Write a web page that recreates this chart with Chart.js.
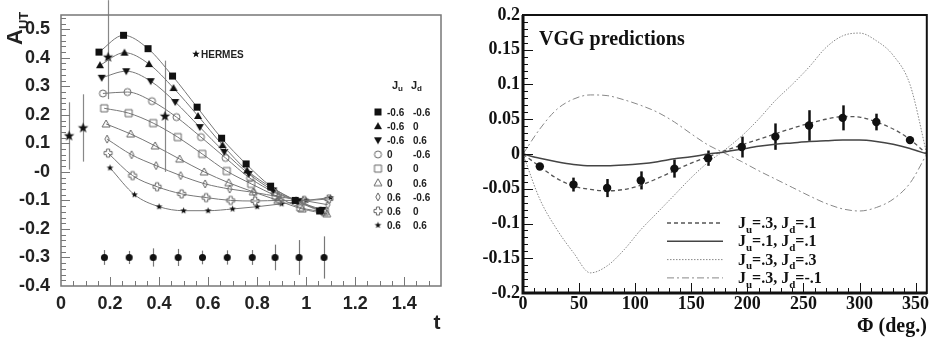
<!DOCTYPE html>
<html>
<head>
<meta charset="utf-8">
<title>A_UT vs t / VGG predictions</title>
<script src="https://cdn.jsdelivr.net/npm/chart.js@4.4.1/dist/chart.umd.min.js"></script>
<style>
  body { margin: 0; background: #fff; }
  #wrap { position: relative; width: 931px; height: 337px; overflow: hidden; }
  #leftChart { position: absolute; left: 0; top: 0; width: 460px; height: 337px; }
  #rightChart { position: absolute; left: 460px; top: 0; width: 471px; height: 337px; }
</style>
</head>
<body>
<div id="wrap">
  <canvas id="leftChart" width="460" height="337"></canvas>
  <canvas id="rightChart" width="471" height="337"></canvas>
</div>
<script>
// ---------- left panel: A_UT vs t ----------
const tBase = [0.155, 0.255, 0.355, 0.455, 0.555, 0.655, 0.755, 0.855, 0.955, 1.055];
// each model series is drawn slightly shifted in t
const tShift = [0, 0.004, 0.011, 0.016, 0.021, 0.029, 0.033, 0.037, 0.045];
const juValues = ['-0.6', '-0.6', '-0.6', '0', '0', '0', '0.6', '0.6', '0.6'];
const jdValues = ['-0.6', '0', '0.6', '-0.6', '0', '0.6', '-0.6', '0', '0.6'];
const autModel = [
  [0.42, 0.479, 0.432, 0.336, 0.227, 0.118, 0.028, -0.05, -0.1, -0.137],
  [0.374, 0.418, 0.378, 0.294, 0.196, 0.094, 0.005, -0.055, -0.1, -0.135],
  [0.33, 0.353, 0.318, 0.245, 0.157, 0.07, -0.007, -0.065, -0.103, -0.133],
  [0.275, 0.28, 0.248, 0.192, 0.122, 0.049, -0.022, -0.072, -0.105, -0.14],
  [0.223, 0.206, 0.171, 0.122, 0.063, 0.003, -0.042, -0.084, -0.125, -0.14],
  [0.168, 0.133, 0.091, 0.045, 0.0, -0.038, -0.07, -0.1, -0.13, -0.147],
  [0.115, 0.06, 0.022, -0.013, -0.042, -0.06, -0.072, -0.087, -0.1, -0.115],
  [0.066, -0.013, -0.052, -0.077, -0.09, -0.1, -0.102, -0.1, -0.1, -0.095],
  [0.014, -0.08, -0.122, -0.136, -0.136, -0.13, -0.122, -0.112, -0.1, -0.09]
];

// HERMES measurements
const hermesT = [0.033, 0.09, 0.192, 0.424];
const hermesA = [0.126, 0.154, 0.402, 0.195];
const hermesErrUp = [0.118, 0.118, 0.2, 0.195];
const hermesErrDown = [0.118, 0.118, 0.147, 0.195];

// projected points with errors
const projT = [0.177, 0.278, 0.376, 0.478, 0.577, 0.678, 0.78, 0.873, 0.971, 1.073];
const projA = [-0.3, -0.3, -0.3, -0.3, -0.3, -0.3, -0.3, -0.3, -0.3, -0.3];
const projErr = [0.026, 0.023, 0.032, 0.03, 0.024, 0.025, 0.026, 0.045, 0.061, 0.074];

// ---------- right panel: VGG predictions vs phi ----------
const phiCurve = [0, 15, 30, 45, 60, 75, 90, 105, 120, 135, 150, 165, 180,
                  195, 210, 225, 240, 255, 270, 285, 300, 315, 330, 345, 360];
const vggDashed = [0, -0.018, -0.035, -0.046, -0.051, -0.053, -0.051, -0.045, -0.035, -0.024, -0.013, -0.004, 0.005,
                   0.013, 0.021, 0.029, 0.037, 0.044, 0.05, 0.054, 0.053, 0.046, 0.036, 0.021, 0];
const vggSolid = [0, -0.006, -0.011, -0.015, -0.017, -0.017, -0.016, -0.014, -0.011, -0.007, -0.004, 0, 0.003,
                  0.007, 0.011, 0.014, 0.016, 0.018, 0.019, 0.02, 0.02, 0.018, 0.014, 0.008, 0];
const vggDotted = [0, -0.065, -0.108, -0.142, -0.171, -0.161, -0.138, -0.109, -0.084, -0.059, -0.034, -0.012, 0.006,
                   0.026, 0.05, 0.077, 0.1, 0.125, 0.153, 0.17, 0.174, 0.163, 0.142, 0.1, 0];
const vggDashDot = [0, 0.036, 0.064, 0.079, 0.085, 0.084, 0.078, 0.07, 0.06, 0.046, 0.029, 0.013, 0.001,
                    -0.011, -0.024, -0.036, -0.048, -0.06, -0.071, -0.079, -0.082, -0.077, -0.065, -0.042, 0];
const vggJu = ['.3', '.1', '.3', '.3'];
const vggJd = ['.1', '.1', '.3', '-.1'];

const phiData = [15, 45, 75, 105, 135, 165, 195, 225, 255, 285, 315, 345];
const autData = [-0.018, -0.044, -0.049, -0.038, -0.021, -0.006, 0.01, 0.025, 0.041, 0.052, 0.046, 0.02];
const autErr = [0.004, 0.01, 0.013, 0.013, 0.013, 0.011, 0.015, 0.019, 0.022, 0.018, 0.012, 0.004];

// ---------- styling ----------
const SANS = '"Liberation Sans", Arial, sans-serif';
const SERIF = '"Liberation Serif", "Times New Roman", serif';
const markerKinds = ['square', 'triUp', 'triDown', 'circle', 'openSquare', 'openTri', 'diamond', 'openCross', 'star'];
const markerSizes = [7, 8, 8, 7, 7, 8, 8, 8, 7];

function makeMarker(kind, size) {
  const c = document.createElement('canvas');
  c.width = c.height = size + 4;
  const g = c.getContext('2d');
  const r = size / 2;
  g.translate(c.width / 2, c.height / 2);
  g.beginPath();
  if (kind === 'square' || kind === 'openSquare') {
    g.rect(-r, -r, size, size);
  } else if (kind === 'triUp' || kind === 'openTri') {
    g.moveTo(0, -r); g.lineTo(r, r * 0.75); g.lineTo(-r, r * 0.75); g.closePath();
  } else if (kind === 'triDown') {
    g.moveTo(0, r); g.lineTo(r, -r * 0.75); g.lineTo(-r, -r * 0.75); g.closePath();
  } else if (kind === 'circle' || kind === 'dot') {
    g.arc(0, 0, r, 0, Math.PI * 2);
  } else if (kind === 'diamond') {
    g.moveTo(0, -r); g.lineTo(r * 0.55, 0); g.lineTo(0, r); g.lineTo(-r * 0.55, 0); g.closePath();
  } else if (kind === 'openCross') {
    const a = r * 0.4;
    const pts = [[-a, -r], [a, -r], [a, -a], [r, -a], [r, a], [a, a], [a, r], [-a, r], [-a, a], [-r, a], [-r, -a], [-a, -a]];
    pts.forEach((p, i) => i ? g.lineTo(p[0], p[1]) : g.moveTo(p[0], p[1]));
    g.closePath();
  } else if (kind === 'star') {
    for (let i = 0; i < 10; i++) {
      const rr = i % 2 ? r * 0.42 : r;
      const ang = -Math.PI / 2 + i * Math.PI / 5;
      g.lineTo(Math.cos(ang) * rr, Math.sin(ang) * rr);
    }
    g.closePath();
  }
  if (['square', 'triUp', 'triDown', 'dot', 'star'].includes(kind)) {
    g.fillStyle = '#111';
    g.fill();
  } else {
    g.strokeStyle = '#666';
    g.lineWidth = 1;
    g.stroke();
  }
  return c;
}

const modelSprites = markerKinds.map((k, i) => makeMarker(k, markerSizes[i]));
const hermesSprite = makeMarker('star', 11);
const labelStar = makeMarker('star', 8);
const projSprite = makeMarker('dot', 7);

// J_u / J_d label with subscripts
function drawJLabel(ctx, x, y, ju, jd, size, family) {
  const main = `bold ${size}px ${family}`;
  const sub = `bold ${Math.round(size * 0.68)}px ${family}`;
  const parts = [['J', main, 0], ['u', sub, size * 0.3], ['=' + ju + ', J', main, 0], ['d', sub, size * 0.3], ['=' + jd, main, 0]];
  parts.forEach(([txt, f, dy]) => {
    ctx.font = f;
    ctx.fillText(txt, x, y + dy);
    x += ctx.measureText(txt).width;
  });
}

function vBar(ctx, x, y, px, v, lo, hi) {
  const cx = Math.round(x.getPixelForValue(px)) + 0.5;
  ctx.beginPath();
  ctx.moveTo(cx, y.getPixelForValue(v - lo));
  ctx.lineTo(cx, y.getPixelForValue(v + hi));
  ctx.stroke();
}

// ---------- left chart decorations ----------
const leftDecor = {
  id: 'leftDecor',
  beforeDatasetsDraw(chart) {
    const { ctx, scales: { x, y } } = chart;
    ctx.save();
    ctx.strokeStyle = '#888';
    ctx.lineWidth = 1.2;
    hermesT.forEach((t, i) => vBar(ctx, x, y, t, hermesA[i], hermesErrDown[i], hermesErrUp[i]));
    ctx.strokeStyle = '#777';
    projT.forEach((t, i) => vBar(ctx, x, y, t, projA[i], projErr[i], projErr[i]));
    ctx.restore();
  },
  afterDraw(chart) {
    const { ctx, chartArea: a, scales: { x, y } } = chart;
    ctx.save();
    // frame
    ctx.strokeStyle = '#777';
    ctx.lineWidth = 1.5;
    ctx.strokeRect(a.left, a.top, a.right - a.left, a.bottom - a.top);
    // inward tick marks
    ctx.lineWidth = 1;
    for (let k = -19; k <= 27; k++) {
      const py = Math.round(y.getPixelForValue(k * 0.02)) + 0.5;
      const len = k % 5 === 0 ? 9 : 5;
      ctx.beginPath(); ctx.moveTo(a.left, py); ctx.lineTo(a.left + len, py); ctx.stroke();
    }
    for (let k = 1; k <= 30; k++) {
      const px = Math.round(x.getPixelForValue(k * 0.05)) + 0.5;
      const len = k % 4 === 0 ? 9 : 5;
      ctx.beginPath(); ctx.moveTo(px, a.bottom); ctx.lineTo(px, a.bottom - len); ctx.stroke();
    }
    // HERMES tag
    ctx.fillStyle = '#222';
    ctx.drawImage(labelStar, 196 - labelStar.width / 2, 54 - labelStar.height / 2);
    ctx.font = 'bold 10px ' + SANS;
    ctx.textAlign = 'left';
    ctx.textBaseline = 'middle';
    ctx.fillText('HERMES', 201, 55);
    // legend header
    ctx.font = 'bold 11px ' + SANS;
    ctx.fillText('J', 392, 86);
    ctx.fillText('J', 411, 86);
    ctx.font = 'bold 8px ' + SANS;
    ctx.fillText('u', 398, 89);
    ctx.fillText('d', 417, 89);
    // legend rows
    juValues.forEach((ju, i) => {
      const ry = 112 + i * 14.15;
      const sp = modelSprites[i];
      ctx.drawImage(sp, 378 - sp.width / 2, ry - sp.height / 2);
      ctx.font = 'bold 10px ' + SANS;
      ctx.fillText(ju, 387, ry + 1);
      ctx.fillText(jdValues[i], 413, ry + 1);
    });
    // axis titles
    ctx.font = 'bold 21px ' + SANS;
    ctx.textAlign = 'center';
    ctx.textBaseline = 'alphabetic';
    ctx.fillText('t', 437, 329);
    ctx.save();
    ctx.translate(22, 45);
    ctx.rotate(-Math.PI / 2);
    ctx.textAlign = 'left';
    ctx.font = 'bold 22px ' + SANS;
    ctx.fillText('A', 0, 0);
    const aw = ctx.measureText('A').width;
    ctx.font = 'bold 13px ' + SANS;
    ctx.fillText('UT', aw, 6);
    ctx.restore();
    ctx.restore();
  }
};

const leftDatasets = autModel.map((vals, s) => ({
  data: vals.map((v, i) => ({ x: tBase[i] + tShift[s], y: v })),
  borderColor: '#777',
  borderWidth: 1,
  pointStyle: modelSprites[s],
  pointRadius: 4,
  cubicInterpolationMode: 'monotone',
  fill: false
}));
leftDatasets.push({
  data: hermesT.map((t, i) => ({ x: t, y: hermesA[i] })),
  showLine: false,
  pointStyle: hermesSprite,
  pointRadius: 5
});
leftDatasets.push({
  data: projT.map((t, i) => ({ x: t, y: projA[i] })),
  showLine: false,
  pointStyle: projSprite,
  pointRadius: 4
});

new Chart(document.getElementById('leftChart'), {
  type: 'line',
  data: { datasets: leftDatasets },
  options: {
    responsive: false,
    animation: false,
    events: [],
    layout: { padding: { top: 15, right: 19, left: 0, bottom: 0 } },
    plugins: { legend: { display: false }, tooltip: { enabled: false } },
    scales: {
      x: {
        type: 'linear', min: 0, max: 1.55,
        grid: { display: false, drawTicks: false },
        border: { display: false },
        ticks: {
          stepSize: 0.2, includeBounds: false, padding: 7, maxRotation: 0, autoSkip: false,
          color: '#222', font: { family: SANS, weight: 'bold', size: 18 },
          callback: v => String(Math.round(v * 10) / 10)
        },
        afterFit: s => { s.height = 51; s.paddingLeft = 0; s.paddingRight = 0; }
      },
      y: {
        min: -0.4, max: 0.55,
        grid: { display: false, drawTicks: false },
        border: { display: false },
        ticks: {
          stepSize: 0.1, includeBounds: false, padding: 11, autoSkip: false,
          color: '#222', font: { family: SANS, weight: 'bold', size: 18 },
          callback: v => Math.abs(v) < 1e-9 ? '-0' : String(Math.round(v * 10) / 10)
        },
        afterFit: s => { s.width = 61; s.paddingTop = 0; s.paddingBottom = 0; }
      }
    }
  },
  plugins: [leftDecor]
});

// ---------- right chart ----------
const curveStyles = [
  { color: '#555', width: 1.3, dash: [4, 3] },
  { color: '#444', width: 1.5, dash: [] },
  { color: '#888', width: 1, dash: [1.5, 1.5] },
  { color: '#888', width: 1, dash: [7, 3, 2, 3] }
];
const vggCurves = [vggDashed, vggSolid, vggDotted, vggDashDot];

const rightDecor = {
  id: 'rightDecor',
  beforeDatasetsDraw(chart) {
    const { ctx, scales: { x, y } } = chart;
    ctx.save();
    ctx.strokeStyle = '#111';
    ctx.lineWidth = 2.5;
    phiData.forEach((p, i) => vBar(ctx, x, y, p, autData[i], autErr[i], autErr[i]));
    ctx.restore();
  },
  afterDraw(chart) {
    const { ctx, chartArea: a, scales: { x, y } } = chart;
    ctx.save();
    // frame
    ctx.strokeStyle = '#111';
    ctx.lineWidth = 2;
    ctx.strokeRect(a.left, a.top, a.right - a.left, a.bottom - a.top);
    ctx.lineWidth = 3;
    ctx.beginPath();
    ctx.moveTo(a.left, a.top); ctx.lineTo(a.left, a.bottom); ctx.lineTo(a.right, a.bottom);
    ctx.stroke();
    // inward tick marks
    ctx.lineWidth = 1;
    for (let k = -19; k <= 19; k++) {
      const py = Math.round(y.getPixelForValue(k * 0.01)) + 0.5;
      const len = k % 5 === 0 ? 10 : 5;
      ctx.beginPath(); ctx.moveTo(a.left, py); ctx.lineTo(a.left + len, py); ctx.stroke();
    }
    for (let k = 1; k < 36; k++) {
      const px = Math.round(x.getPixelForValue(k * 10)) + 0.5;
      const len = k % 5 === 0 ? 10 : 5;
      ctx.beginPath(); ctx.moveTo(px, a.bottom); ctx.lineTo(px, a.bottom - len); ctx.stroke();
    }
    // title
    ctx.fillStyle = '#111';
    ctx.textAlign = 'left';
    ctx.textBaseline = 'alphabetic';
    ctx.font = 'bold 20px ' + SERIF;
    ctx.fillText('VGG predictions', a.left + 16, 45);
    // legend
    vggJu.forEach((ju, k) => {
      const ly = 223 + k * 18.3;
      const st = curveStyles[k];
      ctx.strokeStyle = st.color;
      ctx.lineWidth = st.width;
      ctx.setLineDash(st.dash);
      ctx.beginPath(); ctx.moveTo(207, ly); ctx.lineTo(263, ly); ctx.stroke();
      ctx.setLineDash([]);
      drawJLabel(ctx, 278, ly + 5, ju, vggJd[k], 16, SERIF);
    });
    // axis title
    ctx.font = 'bold 20px ' + SERIF;
    ctx.textAlign = 'right';
    ctx.fillText('\u03A6 (deg.)', a.right, 332);
    ctx.restore();
  }
};

const rightDatasets = vggCurves.map((vals, k) => ({
  data: vals.map((v, i) => ({ x: phiCurve[i], y: v })),
  borderColor: curveStyles[k].color,
  borderWidth: curveStyles[k].width,
  borderDash: curveStyles[k].dash,
  pointRadius: 0,
  cubicInterpolationMode: 'monotone',
  fill: false
}));
rightDatasets.unshift({
  data: phiData.map((p, i) => ({ x: p, y: autData[i] })),
  showLine: false,
  pointStyle: 'circle',
  pointRadius: 4.2,
  backgroundColor: '#111',
  borderColor: '#111',
  borderWidth: 0
});

new Chart(document.getElementById('rightChart'), {
  type: 'line',
  data: { datasets: rightDatasets },
  options: {
    responsive: false,
    animation: false,
    events: [],
    layout: { padding: { top: 15, right: 4, left: 0, bottom: 0 } },
    plugins: { legend: { display: false }, tooltip: { enabled: false } },
    scales: {
      x: {
        type: 'linear', min: 0, max: 360,
        grid: { display: false, drawTicks: false },
        border: { display: false },
        ticks: {
          stepSize: 50, includeBounds: false, padding: 1, maxRotation: 0, autoSkip: false,
          color: '#111', font: { family: SERIF, weight: 'bold', size: 18 }
        },
        afterFit: s => { s.height = 44; s.paddingLeft = 0; s.paddingRight = 0; }
      },
      y: {
        min: -0.2, max: 0.2,
        grid: { display: false, drawTicks: false },
        border: { display: false },
        ticks: {
          stepSize: 0.05, includeBounds: false, padding: 3, autoSkip: false,
          color: '#111', font: { family: SERIF, weight: 'bold', size: 18 },
          callback: v => String(Math.round(v * 100) / 100)
        },
        afterFit: s => { s.width = 63; s.paddingTop = 0; s.paddingBottom = 0; }
      }
    }
  },
  plugins: [rightDecor]
});
</script>
</body>
</html>
